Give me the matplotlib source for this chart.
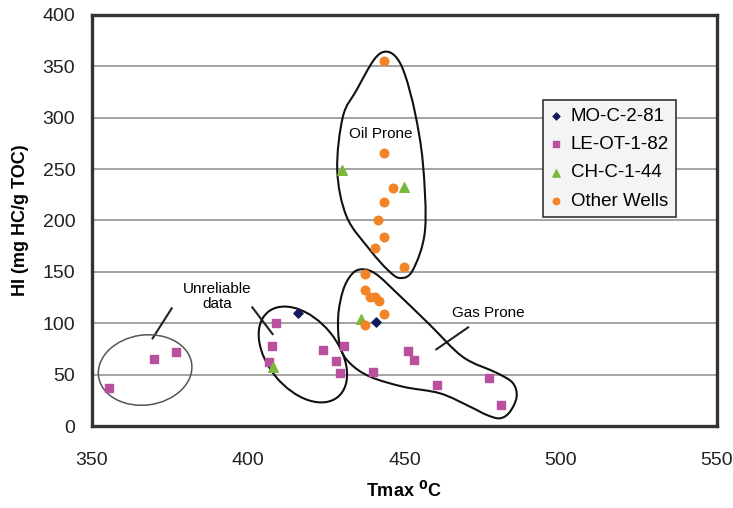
"""HI vs Tmax cross-plot (kerogen type / maturity) with hand-drawn zone outlines."""

import matplotlib

matplotlib.use("Agg")
import matplotlib.pyplot as plt
import numpy as np
from matplotlib.patches import Ellipse, PathPatch
from matplotlib.path import Path
from matplotlib.transforms import Affine2D

plt.rcParams["font.family"] = ["Liberation Sans", "DejaVu Sans"]

# ------------------------------------------------------------------
# Data
# ------------------------------------------------------------------
mo_tmax = [416, 441]
mo_hi = [110, 101]

le_tmax = [355.5, 370, 377, 409, 407.5, 406.5, 424, 428, 429.5, 430.5,
           440, 451, 453, 460.5, 477, 481]
le_hi = [37, 65, 72, 100, 78, 62, 74, 63, 52, 78, 53, 73, 64, 40, 47, 20]

ch_tmax = [430, 450, 436, 408]
ch_hi = [249, 233, 104, 57]

other_tmax = [443.5, 443.5, 446.5, 443.5, 441.5, 443.5, 440.5, 450, 437.5,
              437.5, 439, 440.5, 442, 443.5, 437.5]
other_hi = [355, 266, 232, 218, 200, 184, 173, 155, 148, 132, 126, 126, 122,
            109, 98]

series_labels = ["MO-C-2-81", "LE-OT-1-82", "CH-C-1-44", "Other Wells"]

x_ticks = [350, 400, 450, 500, 550]
y_ticks = [0, 50, 100, 150, 200, 250, 300, 350, 400]

# Hand-drawn zone outlines (data coordinates)
oil_outline = [(443.8, 364.3), (447.3, 359.1), (450.2, 341.6), (453.4, 304.6),
               (455.9, 256.0), (456.6, 190.8), (452.7, 151.8), (448.6, 144.0),
               (444.7, 151.8), (439.0, 171.3), (431.5, 203.7), (428.5, 249.1),
               (430.3, 301.0), (434.7, 327.0), (440.2, 356.2)]
gas_outline = [(436.4, 152.5), (440.9, 147.9), (447.9, 128.5), (458.2, 98.3),
               (468.7, 67.2), (479.6, 51.6), (484.7, 41.8), (485.9, 28.2),
               (483.7, 13.6), (480.6, 7.5), (476.4, 10.7), (471.0, 18.8),
               (461.4, 31.8), (449.6, 38.2), (439.0, 48.0), (432.6, 61.0),
               (429.4, 77.2), (428.8, 106.4), (430.4, 132.4), (433.2, 147.9)]


def smooth_loop(points):
    """Closed Catmull-Rom loop expressed as cubic Bezier segments."""
    pts = np.asarray(points, dtype=float)
    n = len(pts)
    verts = [pts[0]]
    codes = [Path.MOVETO]
    for i in range(n):
        p0, p1, p2, p3 = pts[i - 1], pts[i], pts[(i + 1) % n], pts[(i + 2) % n]
        verts += [p1 + (p2 - p0) / 6, p2 - (p3 - p1) / 6, p2]
        codes += [Path.CURVE4] * 3
    return Path(verts, codes)


fig = plt.figure(figsize=(7.33, 5.08), dpi=100)
ax = fig.add_axes([0.1255, 0.1614, 0.8525, 0.8091])
ax.set_xlim(350, 550)
ax.set_ylim(0, 400)

ax.scatter(mo_tmax, mo_hi, marker="D", s=22, color="#14185c", zorder=4,
           label=series_labels[0])
ax.scatter(le_tmax, le_hi, marker="s", s=36, color="#b9519f", zorder=4,
           label=series_labels[1])
ax.scatter(ch_tmax, ch_hi, marker="^", s=48, color="#7cb83a", zorder=4,
           label=series_labels[2])
ax.scatter(other_tmax, other_hi, marker="o", s=38, color="#f28427", zorder=4,
           label=series_labels[3])

# zone outlines
for outline in (oil_outline, gas_outline):
    ax.add_patch(PathPatch(smooth_loop(outline), facecolor="none",
                           edgecolor="#111111", lw=1.5, zorder=3))

# ellipses drawn with sizes in screen pixels, centred in data coordinates
px_x = ax.bbox.width / 200.0
px_y = ax.bbox.height / 400.0


def pixel_ellipse(center, width_px, height_px, angle, **kw):
    tr = Affine2D().scale(1 / px_x, 1 / px_y).translate(*center) + ax.transData
    return Ellipse((0, 0), width_px, height_px, angle=angle, transform=tr,
                   facecolor="none", zorder=3, **kw)


ax.add_patch(pixel_ellipse((417.5, 69.6), 110, 70, -50.5,
                           edgecolor="#111111", lw=1.5))
ax.add_patch(pixel_ellipse((367, 54.5), 94, 70, 8,
                           edgecolor="#555555", lw=1.1))

# annotations
ax.text(442.4, 284, "Oil Prone", ha="center", va="center", fontsize=11)
ax.text(477, 110, "Gas Prone", ha="center", va="center", fontsize=11)
ax.text(390.2, 126, "Unreliable\ndata", ha="center", va="center",
        fontsize=11, linespacing=1.15)
ax.plot([375.5, 369.4], [114.5, 85.3], color="#222222", lw=1.5)
ax.plot([401.3, 407.8], [115.5, 89.5], color="#222222", lw=1.5)
ax.plot([470.4, 460.2], [96, 74.6], color="#222222", lw=1.5)

ax.set_xticks(x_ticks)
ax.set_yticks(y_ticks)
ax.tick_params(labelsize=14, length=0, colors="#222222")
ax.tick_params(axis="x", pad=19)
ax.tick_params(axis="y", pad=12)
ax.yaxis.grid(True, color="#8a8a8a", lw=1.1)
ax.set_axisbelow(True)
for spine in ax.spines.values():
    spine.set_linewidth(2.4)
    spine.set_color("#333333")

ax.set_xlabel("Tmax $^{\\mathbf{0}}$C", fontsize=13, fontweight="bold",
              labelpad=8)
ax.set_ylabel("HI (mg HC/g TOC)", fontsize=13, fontweight="bold", labelpad=10)

leg = ax.legend(loc="upper left", bbox_to_anchor=(0.721, 0.793),
                borderaxespad=0, fontsize=13.5, frameon=True, fancybox=False,
                handlelength=0.6, handletextpad=0.5, borderpad=0.4,
                labelspacing=0.6, markerscale=0.75)
leg.get_frame().set_edgecolor("#333333")
leg.get_frame().set_facecolor("#f4f4f4")
leg.get_frame().set_alpha(1)
leg.get_frame().set_linewidth(1.2)

fig.savefig("out.png", dpi=100)
